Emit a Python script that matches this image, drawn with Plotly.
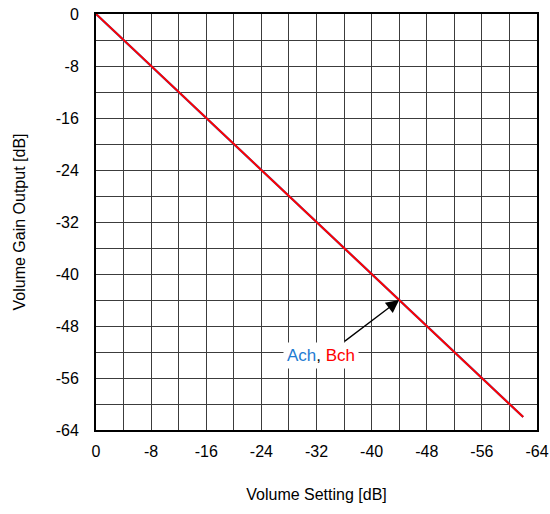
import plotly.graph_objects as go

# Volume setting vs. measured gain output, both channels
setting_db = [0, -8, -16, -24, -32, -40, -48, -56, -62]
ach_gain_db = [0, -8, -16, -24, -32, -40, -48, -56, -62]
bch_gain_db = [0, -8, -16, -24, -32, -40, -48, -56, -62]
tick_vals = [0, -8, -16, -24, -32, -40, -48, -56, -64]
tick_text = ["0", "-8", "-16", "-24", "-32", "-40", "-48", "-56", "-64"]

FONT = "Liberation Sans, Arial, sans-serif"
GRID = "#3c3c3c"

fig = go.Figure()
fig.add_trace(go.Scatter(x=setting_db, y=ach_gain_db, mode="lines",
                         line=dict(color="#1E6FD0", width=2.2), name="Ach"))
fig.add_trace(go.Scatter(x=setting_db, y=bch_gain_db, mode="lines",
                         line=dict(color="#FF0000", width=2), name="Bch"))

axis_common = dict(
    tickvals=tick_vals, ticktext=tick_text,
    showgrid=True, gridcolor=GRID, gridwidth=1,
    minor=dict(dtick=4, showgrid=True, gridcolor=GRID, gridwidth=1, ticks=""),
    showline=True, linecolor="black", linewidth=2, mirror=True,
    ticks="", zeroline=False, automargin=False,
    tickfont=dict(family=FONT, size=16, color="black"),
)

fig.update_xaxes(range=[0, -64], ticklabelstandoff=6,
                 title=dict(text="Volume Setting [dB]", standoff=30,
                            font=dict(family=FONT, size=16, color="black")), **axis_common)
fig.update_yaxes(range=[-64, 0], ticklabelstandoff=12,
                 title=dict(text="Volume Gain Output [dB]", standoff=26,
                            font=dict(family=FONT, size=16, color="black")), **axis_common)

# Callout arrow pointing at the curves
fig.add_annotation(x=-44, y=-44, ax=-35.9, ay=-50.5, axref="x", ayref="y",
                   xref="x", yref="y", text="", showarrow=True,
                   arrowhead=2, arrowsize=2, arrowwidth=1.3, arrowcolor="black")
fig.add_annotation(x=-32.6, y=-52.6, xref="x", yref="y", showarrow=False,
                   text="<span style='color:#1E7BD2'>Ach</span>, <span style='color:#FF0000'>Bch</span>",
                   font=dict(family=FONT, size=17, color="black"),
                   bgcolor="white", borderpad=3)

fig.update_layout(
    width=550, height=514,
    margin=dict(l=96, r=13, t=14, b=84),
    paper_bgcolor="white", plot_bgcolor="white",
    showlegend=False,
)

fig.write_html("out.html")
